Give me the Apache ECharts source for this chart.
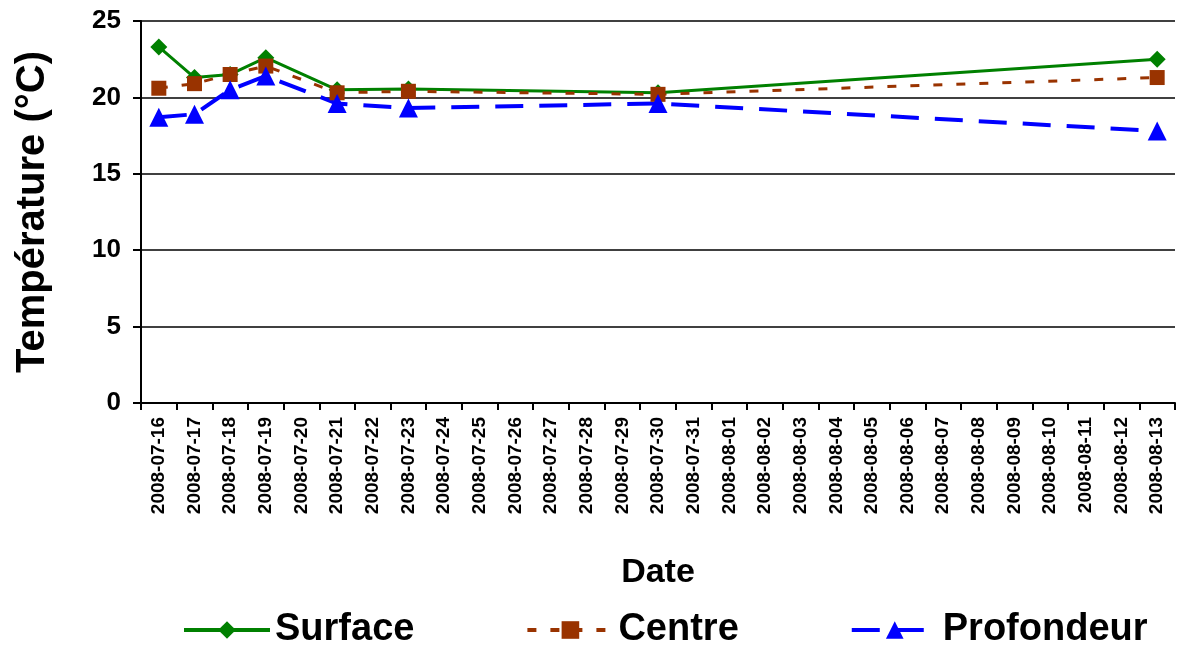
<!DOCTYPE html>
<html>
<head>
<meta charset="utf-8">
<script src="https://cdn.jsdelivr.net/npm/echarts@6/dist/echarts.min.js"></script>
<style>html,body{margin:0;padding:0;background:#fff}#c{width:1185px;height:647px}</style>
</head>
<body>
<div id="c"></div>
<script>
const categories = ["2008-07-16","2008-07-17","2008-07-18","2008-07-19","2008-07-20","2008-07-21","2008-07-22","2008-07-23","2008-07-24","2008-07-25","2008-07-26","2008-07-27","2008-07-28","2008-07-29","2008-07-30","2008-07-31","2008-08-01","2008-08-02","2008-08-03","2008-08-04","2008-08-05","2008-08-06","2008-08-07","2008-08-08","2008-08-09","2008-08-10","2008-08-11","2008-08-12","2008-08-13"];
const surface    = [23.3,21.3,21.5,22.6,null,20.5,null,20.55,null,null,null,null,null,null,20.3,null,null,null,null,null,null,null,null,null,null,null,null,null,22.5];
const centre     = [20.6,20.9,21.5,22.05,null,20.3,null,20.4,null,null,null,null,null,null,20.2,null,null,null,null,null,null,null,null,null,null,null,null,null,21.3];
const profondeur = [18.7,18.9,20.5,21.4,null,19.6,null,19.3,null,null,null,null,null,null,19.6,null,null,null,null,null,null,null,null,null,null,null,null,null,17.8];
const yTicks = [0,5,10,15,20,25];

const font = 'Liberation Sans, Arial, sans-serif';
const chart = echarts.init(document.getElementById('c'));
chart.setOption({
  animation: false,
  backgroundColor: '#fff',
  grid: {left: 141, right: 10, top: 21, bottom: 244},
  legend: {
    left: 182, top: 611, padding: 0, itemWidth: 86, itemHeight: 22, itemGap: 111,
    lineStyle: {width: 4},
    textStyle: {fontFamily: font, fontWeight: 'bold', fontSize: 38, color: '#000'},
    data: ['Surface','Centre','Profondeur']
  },
  xAxis: {
    type: 'category', data: categories, boundaryGap: true,
    name: 'Date', nameLocation: 'middle', nameGap: 153,
    nameTextStyle: {fontFamily: font, fontWeight: 'bold', fontSize: 34, color: '#000'},
    axisLine: {lineStyle: {color: '#000', width: 2}},
    axisTick: {show: true, alignWithLabel: false, interval: 0, length: 7, lineStyle: {color: '#000', width: 2}},
    axisLabel: {interval: 0, rotate: 90, margin: 14, fontFamily: font, fontWeight: 'bold', fontSize: 19, color: '#000'}
  },
  yAxis: {
    type: 'value', min: 0, max: 25, interval: 5,
    name: 'Température (°C)', nameLocation: 'middle', nameGap: 88, nameRotate: 90,
    nameTextStyle: {fontFamily: font, fontWeight: 'bold', fontSize: 40, color: '#000'},
    axisLine: {show: true, lineStyle: {color: '#000', width: 2}},
    axisTick: {show: true, length: 8, lineStyle: {color: '#000', width: 2}},
    axisLabel: {margin: 20, fontFamily: font, fontWeight: 'bold', fontSize: 26, color: '#000',
      formatter: v => yTicks.includes(v) ? String(v) : ''},
    splitLine: {show: true, lineStyle: {color: '#000', width: 1.5}}
  },
  series: [
    {name: 'Surface', type: 'line', data: surface, connectNulls: true,
     symbol: 'diamond', symbolSize: 17, color: '#008000',
     lineStyle: {color: '#008000', width: 3}, itemStyle: {color: '#008000'}},
    {name: 'Centre', type: 'line', data: centre, connectNulls: true,
     symbol: 'rect', symbolSize: 15, color: '#993300',
     lineStyle: {color: '#993300', width: 3, type: [9, 14]}, itemStyle: {color: '#993300'}},
    {name: 'Profondeur', type: 'line', data: profondeur, connectNulls: true,
     symbol: 'triangle', symbolSize: 19, color: '#0000ff',
     lineStyle: {color: '#0000ff', width: 4, type: [28, 16]}, itemStyle: {color: '#0000ff'}}
  ]
});
</script>
</body>
</html>
